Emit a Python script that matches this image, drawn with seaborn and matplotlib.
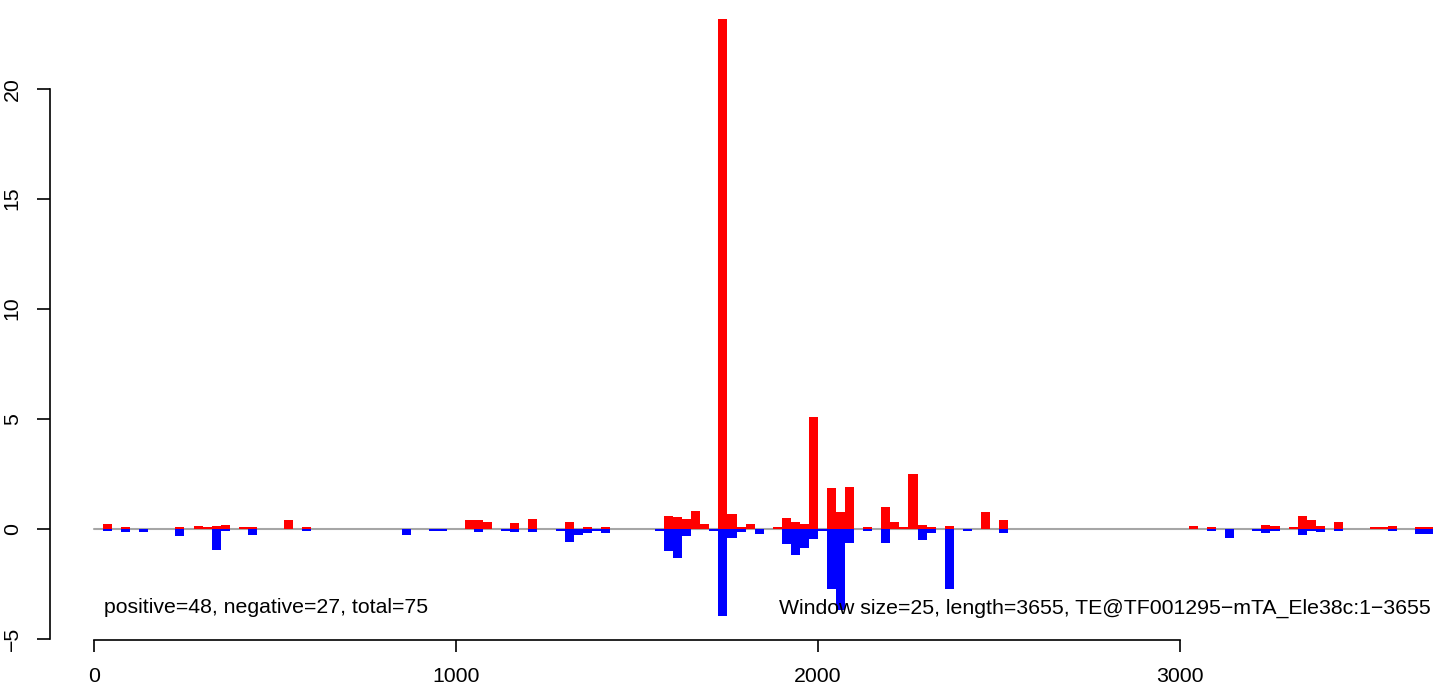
import pandas as pd
import seaborn as sns
import matplotlib.pyplot as plt

window = 25
seq_len = 3655

# positive strand (red), start of each 25 bp window
pos_start = [25, 75, 225, 275, 300, 325, 350, 400, 425, 525, 575,
             1025, 1050, 1075, 1150, 1200, 1300, 1350, 1400,
             1575, 1600, 1625, 1650, 1675, 1725, 1750, 1775, 1800, 1875,
             1900, 1925, 1950, 1975, 2025, 2050, 2075, 2125, 2175, 2200,
             2225, 2250, 2275, 2300, 2350, 2450, 2500,
             3025, 3075, 3225, 3250, 3300, 3325, 3350, 3375, 3425,
             3525, 3550, 3575, 3650, 3675]
pos_val = [0.21, 0.08, 0.08, 0.12, 0.08, 0.12, 0.17, 0.08, 0.08, 0.39, 0.08,
           0.39, 0.39, 0.30, 0.26, 0.44, 0.30, 0.08, 0.08,
           0.58, 0.53, 0.45, 0.82, 0.21, 23.17, 0.67, 0.09, 0.21, 0.09,
           0.48, 0.30, 0.21, 5.09, 1.85, 0.76, 1.89, 0.09, 0.98, 0.30,
           0.09, 2.48, 0.17, 0.09, 0.12, 0.76, 0.39,
           0.12, 0.08, 0.17, 0.12, 0.08, 0.58, 0.39, 0.12, 0.30,
           0.08, 0.08, 0.12, 0.08, 0.08]

# negative strand (blue)
neg_start = [25, 75, 125, 225, 325, 350, 425, 575, 850, 925, 950,
             1050, 1125, 1150, 1200, 1275, 1300, 1325, 1350, 1375, 1400,
             1550, 1575, 1600, 1625, 1700, 1725, 1750, 1775, 1825,
             1900, 1925, 1950, 1975, 2000, 2025, 2050, 2075, 2125, 2175,
             2275, 2300, 2350, 2400, 2500,
             3075, 3125, 3200, 3225, 3250, 3325, 3350, 3375, 3425,
             3575, 3650, 3675]
neg_val = [-0.09, -0.14, -0.14, -0.32, -0.95, -0.09, -0.27, -0.09, -0.27, -0.09, -0.09,
           -0.14, -0.09, -0.14, -0.14, -0.09, -0.59, -0.27, -0.18, -0.09, -0.18,
           -0.09, -1.02, -1.33, -0.33, -0.10, -3.97, -0.41, -0.14, -0.24,
           -0.70, -1.20, -0.86, -0.45, -0.10, -2.73, -3.70, -0.64, -0.10, -0.64,
           -0.52, -0.18, -2.73, -0.10, -0.18,
           -0.09, -0.41, -0.09, -0.18, -0.09, -0.27, -0.09, -0.14, -0.09,
           -0.09, -0.23, -0.23]

left_note = "positive=48, negative=27, total=75"
right_note = "Window size=25, length=3655, TE@TF001295\u2212mTA_Ele38c:1\u22123655"

pos_df = pd.DataFrame({"x": [s + window / 2 for s in pos_start], "y": pos_val})
neg_df = pd.DataFrame({"x": [s + window / 2 for s in neg_start], "y": neg_val})

sns.set_style("white")
plt.rcParams['font.family'] = ['Liberation Sans', 'DejaVu Sans']
plt.rcParams['text.color'] = 'black'
plt.rcParams['xtick.color'] = 'black'
plt.rcParams['ytick.color'] = 'black'

fig = plt.figure(figsize=(14.33, 6.91), dpi=100)
ax = fig.add_axes([50 / 1433, 51 / 691, 1383 / 1433, 640 / 691])

ax.plot([0, 3700], [0, 0], color="#a6a6a6", lw=1.5, zorder=0.5)
sns.barplot(data=pos_df, x="x", y="y", native_scale=True, orient="x", width=1,
            color="#ff0000", saturation=1, linewidth=0, errorbar=None, ax=ax)
sns.barplot(data=neg_df, x="x", y="y", native_scale=True, orient="x", width=1,
            color="#0000ff", saturation=1, linewidth=0, errorbar=None, ax=ax)

ax.set_xlim(-121.5, 3699)
ax.set_ylim(-5.06, 24.03)
ax.set_xticks([0, 1000, 2000, 3000])
ax.set_yticks([-5, 0, 5, 10, 15, 20])
ax.set_xlabel("")
ax.set_ylabel("")

for side in ["top", "right"]:
    ax.spines[side].set_visible(False)
ax.spines["left"].set_bounds(-5, 20)
ax.spines["bottom"].set_bounds(0, 3000)
for side in ["left", "bottom"]:
    ax.spines[side].set_color("black")
    ax.spines[side].set_linewidth(1.2)

ax.tick_params(axis="y", direction="out", length=9.4, width=1.2, color="black",
               labelcolor="black", labelsize=15.3, pad=11, labelrotation=90, left=True)
ax.tick_params(axis="x", direction="out", length=8.6, width=1.2, color="black",
               labelcolor="black", labelsize=15.3, pad=11, bottom=True)
for lab in ax.get_yticklabels():
    lab.set_verticalalignment("center")

ax.text(28, -3.6, left_note, ha="left", va="center", fontsize=15.3, color="black")
ax.text(3693, -3.6, right_note, ha="right", va="center", fontsize=15.3, color="black")

fig.savefig("out.png", dpi=100)
